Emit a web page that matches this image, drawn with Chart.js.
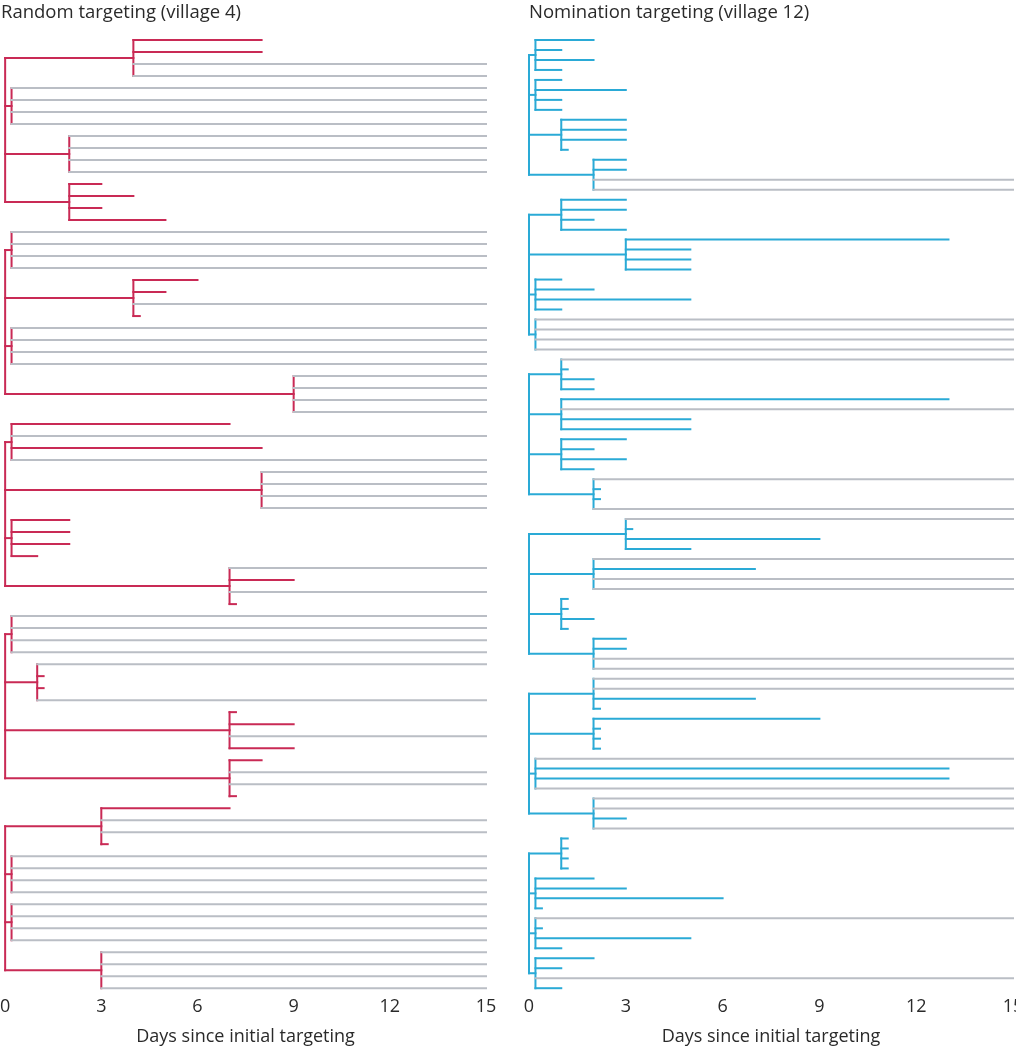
<!DOCTYPE html>
<html>
<head>
<meta charset="utf-8">
<script src="https://cdn.jsdelivr.net/npm/chart.js@4.4.1/dist/chart.umd.min.js"></script>
<style>
  html, body { margin: 0; padding: 0; background: #fff; overflow: hidden; }
  body { width: 1016px; height: 1050px; position: relative; }
  .panel { position: absolute; top: 0; height: 1050px; }
  #randomPanel { left: 0; width: 500px; }
  #nominationPanel { left: 505px; width: 519px; }
</style>
</head>
<body>
<div class="panel" id="randomPanel"><canvas id="randomChart"></canvas></div>
<div class="panel" id="nominationPanel"><canvas id="nominationChart"></canvas></div>
<script>
// day each cluster of 4 households branches off its root (4 clusters per tree)
const randomBranchDay = [
  4, 0.2, 2, 2,
  0.2, 4, 0.2, 9,
  0.2, 8, 0.2, 7,
  0.2, 1, 7, 7,
  3, 0.2, 0.2, 3
];

// day each household line ends (15 = still followed at end)
const randomLeafEnd = [
  8, 8, 15, 15,   15, 15, 15, 15,   15, 15, 15, 15,   3, 4, 3, 5,
  15, 15, 15, 15,   6, 5, 15, 4.2,   15, 15, 15, 15,   15, 15, 15, 15,
  7, 15, 8, 15,   15, 15, 15, 15,   2, 2, 2, 1,   15, 9, 15, 7.2,
  15, 15, 15, 15,   15, 1.2, 1.2, 15,   7.2, 9, 15, 9,   8, 15, 15, 7.2,
  7, 15, 15, 3.2,   15, 15, 15, 15,   15, 15, 15, 15,   15, 15, 15, 15
];

const nominationBranchDay = [
  0.2, 0.2, 1, 2,
  1, 3, 0.2, 0.2,
  1, 1, 1, 2,
  3, 2, 1, 2,
  2, 2, 0.2, 2,
  1, 0.2, 0.2, 0.2
];

const nominationLeafEnd = [
  2, 1, 2, 1,   1, 3, 1, 1,   3, 3, 3, 1.2,   3, 3, 15, 15,
  3, 3, 2, 3,   13, 5, 5, 5,   1, 2, 5, 1,   15, 15, 15, 15,
  15, 1.2, 2, 2,   13, 15, 5, 5,   3, 2, 3, 2,   15, 2.2, 2.2, 15,
  15, 3.2, 9, 5,   15, 7, 15, 15,   1.2, 1.2, 2, 1.2,   3, 3, 15, 15,
  15, 15, 7, 2.2,   9, 2.2, 2.2, 2.2,   15, 13, 13, 15,   15, 15, 3, 15,
  1.2, 1.2, 1.2, 1.2,   2, 3, 6, 0.4,   15, 0.4, 5, 1,   2, 1, 15, 1
];

const dayTicks = [0, 3, 6, 9, 12, 15];
const maxDay = 15;

const GREY = '#babec5';
const TEXT = '#2a2a2a';
const FONT = 'Open Sans';

function segment(x1, y1, x2, y2, color) {
  return {
    data: [{ x: x1, y: y1 }, { x: x2, y: y2 }],
    showLine: true,
    borderColor: color,
    borderWidth: 2,
    borderCapStyle: 'square',
    pointRadius: 0,
    clip: false
  };
}

function buildTree(branchDay, leafEnd, color) {
  const greyLines = [];
  const colorLines = [];
  const perCluster = 4;
  const perTree = 4;

  branchDay.forEach((b, c) => {
    const first = c * perCluster;
    const last = first + perCluster - 1;
    const mid = (first + last) / 2;
    colorLines.push(segment(0, mid, b, mid, color));
    for (let i = first; i <= last; i++) {
      const end = leafEnd[i];
      const seg = segment(b, i, end, i, end >= maxDay ? GREY : color);
      if (end >= maxDay) greyLines.push(seg); else colorLines.push(seg);
    }
    colorLines.push(segment(b, first, b, last, color));
  });

  const rowsPerTree = perCluster * perTree;
  for (let t = 0; t < branchDay.length / perTree; t++) {
    const top = t * rowsPerTree + 1.5;
    const bottom = t * rowsPerTree + rowsPerTree - 2.5;
    colorLines.push(segment(0, top, 0, bottom, color));
  }
  return greyLines.concat(colorLines);
}

function makeChart(canvasId, title, branchDay, leafEnd, color, padLeft, padRight) {
  const rows = leafEnd.length;
  return new Chart(document.getElementById(canvasId), {
    type: 'scatter',
    data: { datasets: buildTree(branchDay, leafEnd, color) },
    options: {
      responsive: true,
      maintainAspectRatio: false,
      animation: false,
      events: [],
      layout: { padding: { left: padLeft, right: padRight, top: 0, bottom: 0 } },
      plugins: {
        legend: { display: false },
        tooltip: { enabled: false },
        title: {
          display: true,
          text: title,
          align: 'start',
          color: TEXT,
          font: { family: FONT, size: 18.5, weight: 'normal' },
          padding: { top: 2, bottom: 15.8 }
        }
      },
      scales: {
        x: {
          type: 'linear',
          min: 0,
          max: maxDay,
          grid: { display: false, drawTicks: true, tickLength: 8 },
          border: { display: false },
          afterBuildTicks: (scale) => {
            scale.ticks = dayTicks.map(v => ({ value: v }));
          },
          ticks: {
            padding: 0,
            color: TEXT,
            font: { family: FONT, size: 18 }
          },
          title: {
            display: true,
            text: 'Days since initial targeting',
            color: TEXT,
            font: { family: FONT, size: 18 },
            padding: { top: 8.6, bottom: 2 }
          }
        },
        y: {
          type: 'linear',
          min: 0,
          max: rows - 1,
          reverse: true,
          display: false
        }
      }
    }
  });
}

document.addEventListener('DOMContentLoaded', () => {
  makeChart('randomChart', 'Random targeting (village 4)', randomBranchDay, randomLeafEnd, '#c92a55', 1, 14);
  makeChart('nominationChart', 'Nomination targeting (village 12)', nominationBranchDay, nominationLeafEnd, '#2aaad6', 24, 11);
});
</script>
</body>
</html>
